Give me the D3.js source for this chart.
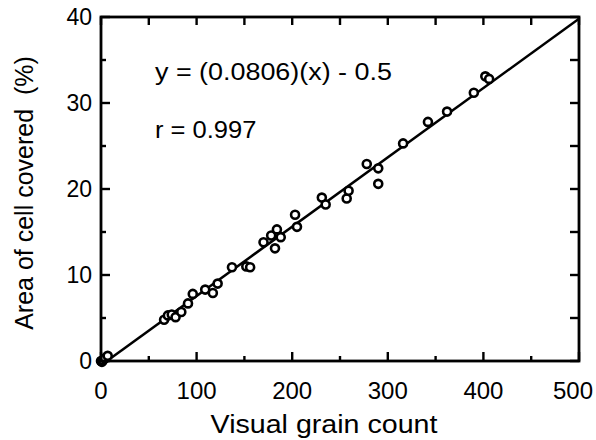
<!DOCTYPE html>
<html>
<head>
<meta charset="utf-8">
<script src="https://cdn.jsdelivr.net/npm/d3@7"></script>
<style>
  body { margin: 0; background: #fff; }
  svg { display: block; font-family: "Liberation Sans", Arial, Helvetica, sans-serif; }
</style>
</head>
<body>
<svg></svg>
<script>
// grain count vs % area covered
const grainCount = [0, 1, 2, 4, 7, 66, 70, 74, 78, 84, 91, 96, 109, 117, 122, 137, 152, 156,
  170, 178, 182, 184, 188, 203, 205, 231, 235, 257, 259, 278, 290, 290, 316, 342, 362, 390, 402, 406];
const areaCovered = [0, -0.1, 0.1, 0.3, 0.6, 4.8, 5.3, 5.4, 5.1, 5.7, 6.7, 7.8, 8.3, 7.9, 9.0, 10.9, 11.0, 10.9,
  13.8, 14.6, 13.1, 15.3, 14.4, 17.0, 15.6, 19.0, 18.2, 18.9, 19.8, 22.9, 22.4, 20.6, 25.3, 27.8, 29.0, 31.2, 33.1, 32.8];
const xTicks = [0, 100, 200, 300, 400, 500];
const yTicks = [0, 10, 20, 30, 40];
const slope = 0.0806, intercept = -0.5;
const eqLabel = 'y = (0.0806)(x) - 0.5';
const rLabel = 'r = 0.997';

const width = 596, height = 440;
const margin = { left: 101, top: 17, right: 17, bottom: 79 };

const svg = d3.select('svg')
    .attr('width', width)
    .attr('height', height);

const x = d3.scaleLinear().domain([0, 500]).range([margin.left, width - margin.right]);
const y = d3.scaleLinear().domain([0, 40]).range([height - margin.bottom, margin.top]);

const x0 = x.range()[0], x1 = x.range()[1], y0 = y.range()[0], y1 = y.range()[1];

svg.append('clipPath').attr('id', 'plot')
    .append('rect')
    .attr('x', x0).attr('y', y1)
    .attr('width', x1 - x0).attr('height', y0 - y1);

// fit line
svg.append('line')
    .attr('clip-path', 'url(#plot)')
    .attr('x1', x(0)).attr('y1', y(intercept))
    .attr('x2', x(500)).attr('y2', y(slope * 500 + intercept))
    .attr('stroke', '#000')
    .attr('stroke-width', 2.5);

// points
svg.append('g').selectAll('circle')
    .data(grainCount.map((d, i) => [d, areaCovered[i]]))
    .enter().append('circle')
    .attr('cx', d => x(d[0]))
    .attr('cy', d => y(d[1]))
    .attr('r', 4)
    .attr('fill', '#fff')
    .attr('stroke', '#000')
    .attr('stroke-width', 2.6);

// frame
svg.append('rect')
    .attr('x', x0).attr('y', y1)
    .attr('width', x1 - x0).attr('height', y0 - y1)
    .attr('fill', 'none')
    .attr('stroke', '#000')
    .attr('stroke-width', 2.8);

// ticks, pointing inward
const tickG = svg.append('g').attr('stroke', '#000').attr('stroke-width', 2.4);
d3.range(0, 501, 50).forEach(v => {
    const len = v % 100 === 0 ? 9 : 5;
    tickG.append('line').attr('x1', x(v)).attr('x2', x(v)).attr('y1', y0).attr('y2', y0 - len);
    tickG.append('line').attr('x1', x(v)).attr('x2', x(v)).attr('y1', y1).attr('y2', y1 + 8);
});
d3.range(0, 41, 5).forEach(v => {
    const len = v % 10 === 0 ? 9 : 5;
    tickG.append('line').attr('y1', y(v)).attr('y2', y(v)).attr('x1', x0).attr('x2', x0 + len);
    tickG.append('line').attr('y1', y(v)).attr('y2', y(v)).attr('x1', x1).attr('x2', x1 - 9);
});

// tick labels (last one pulled in so it stays on the page)
svg.append('g').selectAll('text').data(xTicks)
    .enter().append('text')
    .attr('x', d => d === 500 ? 593 : x(d))
    .attr('y', 399)
    .attr('text-anchor', d => d === 500 ? 'end' : 'middle')
    .attr('font-size', 24)
    .attr('fill', '#000')
    .text(d => d);

svg.append('g').selectAll('text').data(yTicks)
    .enter().append('text')
    .attr('x', 92)
    .attr('y', d => y(d))
    .attr('dy', '.36em')
    .attr('text-anchor', 'end')
    .attr('font-size', 23)
    .attr('fill', '#000')
    .text(d => d);

// axis titles
svg.append('text')
    .attr('transform', 'translate(324,433) scale(1.1,1)')
    .attr('text-anchor', 'middle')
    .attr('font-size', 26)
    .attr('fill', '#000')
    .text('Visual grain count');

svg.append('text')
    .attr('transform', 'translate(33,193) rotate(-90)')
    .attr('text-anchor', 'middle')
    .attr('font-size', 25)
    .attr('fill', '#000')
    .attr('xml:space', 'preserve')
    .text('Area of cell covered  (%)');

// annotations
svg.append('text')
    .attr('transform', 'translate(155,80) scale(1.17,1)')
    .attr('font-size', 23)
    .attr('fill', '#000')
    .text(eqLabel);

svg.append('text')
    .attr('transform', 'translate(155,138) scale(1.11,1)')
    .attr('font-size', 23)
    .attr('fill', '#000')
    .text(rLabel);
</script>
</body>
</html>
